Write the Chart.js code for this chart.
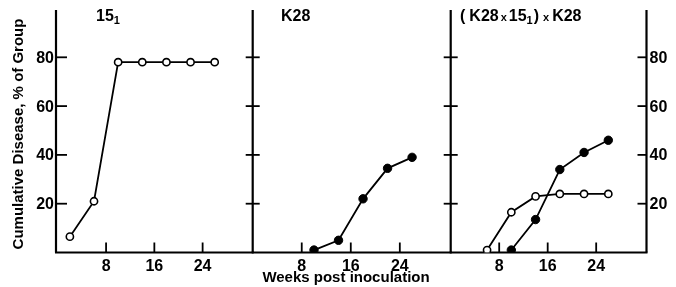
<!DOCTYPE html>
<html>
<head>
<meta charset="utf-8">
<script src="https://cdn.jsdelivr.net/npm/chart.js@4"></script>
<style>
  body { margin: 0; background: #fff; }
  #wrap { position: relative; width: 676px; height: 287px; }
  #wrap canvas { position: absolute; left: 0; top: 0; }
</style>
</head>
<body>
<div id="wrap">
  <canvas id="p1" width="676" height="287"></canvas>
  <canvas id="p2" width="676" height="287"></canvas>
  <canvas id="p3" width="676" height="287"></canvas>
</div>
<script>
// ---------- data ----------
const weeks15 = [2, 6, 10, 14, 18, 22, 26];
const disease15 = [6.5, 21, 78, 78, 78, 78, 78];

const weeksK28 = [10, 14, 18, 22, 26];
const diseaseK28 = [1, 5, 22, 34.5, 39];

const weeksCrossOpen = [6, 10, 14, 18, 22, 26];
const diseaseCrossOpen = [1, 16.5, 23, 24, 24, 24];

const weeksCrossFilled = [10, 14, 18, 22, 26];
const diseaseCrossFilled = [1, 13.5, 34, 41, 46];

const xTicks = [8, 16, 24];
const yTicks = [20, 40, 60, 80];

const yTitle = "Cumulative Disease, % of Group";
const xTitle = "Weeks post inoculation";

// ---------- helpers ----------
const FONT = "'Liberation Sans', Arial, sans-serif";
const TOP = 8.5, BOTTOM = 252.5;

function pts(xs, ys) {
    return xs.map((x, i) => ({ x, y: ys[i] }));
}

function openSeries(xs, ys) {
    return {
        data: pts(xs, ys),
        borderColor: "#000",
        borderWidth: 1.8,
        pointRadius: 3.6,
        pointBorderWidth: 1.6,
        pointBackgroundColor: "#fff",
        pointBorderColor: "#000"
    };
}

function filledSeries(xs, ys) {
    return {
        data: pts(xs, ys),
        borderColor: "#000",
        borderWidth: 1.8,
        pointRadius: 4.2,
        pointBorderWidth: 1,
        pointBackgroundColor: "#000",
        pointBorderColor: "#000"
    };
}

// draws a run of text pieces: [text, size, dy, gap]
function richText(ctx, x, y, pieces) {
    ctx.textAlign = "left";
    ctx.textBaseline = "middle";
    pieces.forEach(p => {
        ctx.font = "bold " + p[1] + "px " + FONT;
        ctx.fillText(p[0], x, y + (p[2] || 0));
        x += ctx.measureText(p[0]).width + (p[3] || 0);
    });
}

function line(ctx, x1, y1, x2, y2, w) {
    ctx.beginPath();
    ctx.lineWidth = w;
    ctx.moveTo(x1, y1);
    ctx.lineTo(x2, y2);
    ctx.stroke();
}

// axes, ticks and texts of one panel
const axesPlugin = {
    id: "panelAxes",
    beforeDatasetsDraw(chart) {
        const cfg = chart.options.plugins.panelAxes;
        const ctx = chart.ctx;
        const xs = chart.scales.x, ys = chart.scales.y;
        const a = chart.chartArea;
        const y0 = ys.getPixelForValue(0);

        ctx.save();
        ctx.strokeStyle = "#000";
        ctx.fillStyle = "#000";

        // baseline
        line(ctx, a.left - 1, y0, a.right + 1, y0, 2.2);
        // left axis
        line(ctx, a.left, 10, a.left, y0, 2.2);

        yTicks.forEach(v => {
            const py = ys.getPixelForValue(v);
            if (cfg.side === "first") {
                line(ctx, a.left, py, a.left + 11, py, 1.8);
                ctx.font = "bold 16px " + FONT;
                ctx.textAlign = "right";
                ctx.textBaseline = "middle";
                ctx.fillText(String(v), a.left - 2, py + 1);
            } else {
                line(ctx, a.left - 7, py, a.left + 7, py, 1.8);
            }
        });

        if (cfg.side === "last") {
            line(ctx, a.right, 10, a.right, y0, 2.2);
            yTicks.forEach(v => {
                const py = ys.getPixelForValue(v);
                line(ctx, a.right - 9, py, a.right, py, 1.8);
                ctx.font = "bold 16px " + FONT;
                ctx.textAlign = "left";
                ctx.textBaseline = "middle";
                ctx.fillText(String(v), a.right + 3, py + 1);
            });
        }

        xTicks.forEach(v => {
            const px = xs.getPixelForValue(v);
            line(ctx, px, y0, px, y0 - 10, 1.8);
            ctx.font = "bold 16px " + FONT;
            ctx.textAlign = "center";
            ctx.textBaseline = "middle";
            ctx.fillText(String(v), px, 267);
        });

        richText(ctx, cfg.titleX, 17, cfg.title);

        if (cfg.side === "first") {
            ctx.save();
            ctx.translate(19, 134);
            ctx.rotate(-Math.PI / 2);
            ctx.font = "bold 15px " + FONT;
            ctx.textAlign = "center";
            ctx.textBaseline = "middle";
            ctx.fillText(yTitle, 0, 0);
            ctx.restore();
        }
        if (cfg.side === "middle") {
            ctx.font = "bold 15px " + FONT;
            ctx.textAlign = "center";
            ctx.textBaseline = "middle";
            ctx.fillText(xTitle, 346, 278);
        }
        ctx.restore();
    }
};

function makePanel(id, left, right, side, xMin, datasets, title, titleX) {
    return new Chart(document.getElementById(id), {
        type: "line",
        data: { datasets },
        options: {
            responsive: false,
            animation: false,
            devicePixelRatio: 1,
            layout: {
                padding: { left: left, right: 676 - right, top: TOP, bottom: 287 - BOTTOM }
            },
            plugins: {
                legend: { display: false },
                tooltip: { enabled: false },
                panelAxes: { side, title, titleX }
            },
            scales: {
                x: { type: "linear", min: xMin, max: 32.3, display: false },
                y: { type: "linear", min: 0, max: 100, display: false }
            },
            elements: { line: { tension: 0 } }
        },
        plugins: [axesPlugin]
    });
}

makePanel("p1", 56, 252.7, "first", -0.3,
    [openSeries(weeks15, disease15)],
    [["15", 16], ["1", 11, 4]], 96);

makePanel("p2", 252.7, 450.7, "middle", 0,
    [filledSeries(weeksK28, diseaseK28)],
    [["K28", 16, 0, 1]], 281);

makePanel("p3", 450.7, 646.5, "last", 0,
    [openSeries(weeksCrossOpen, diseaseCrossOpen),
     filledSeries(weeksCrossFilled, diseaseCrossFilled)],
    [["(", 16, 0, 4], ["K28", 16, 0, 2], ["x", 11, 1, 2], ["15", 16], ["1", 11, 4, 1], [")", 16, 0, 4],
     ["x", 11, 1, 3], ["K28", 16]], 460);
</script>
</body>
</html>
